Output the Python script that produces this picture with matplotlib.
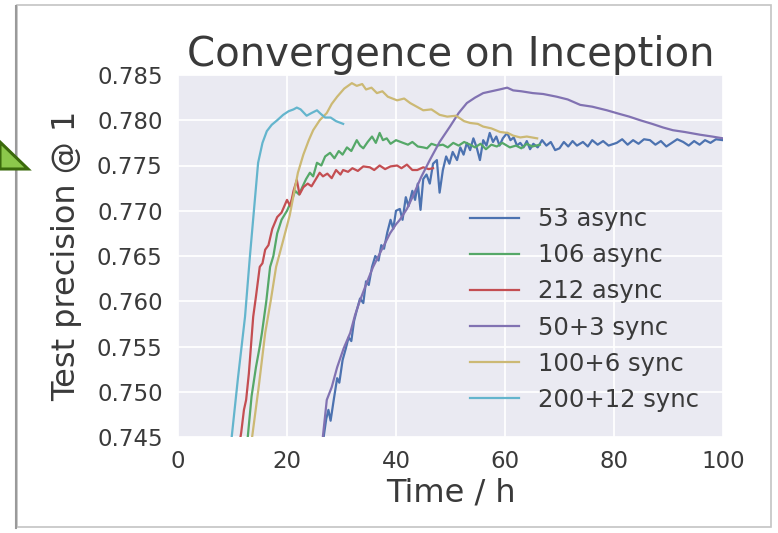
import matplotlib
matplotlib.use("Agg")
import matplotlib.pyplot as plt
from matplotlib.patches import Rectangle, Polygon

# ── Data ──────────────────────────────────────────────
t_53 = [26.6, 27.2, 27.6, 28.0, 28.6, 29.2, 29.6, 30.2, 30.8, 31.3, 31.8, 32.3, 32.8, 33.4,
        34.0, 34.5, 35.0, 35.6, 36.2, 36.8, 37.3, 37.8, 38.4, 39.0, 39.5, 40.0, 40.7, 41.2,
        41.8, 42.3, 43.0, 43.5, 44.0, 44.5, 45.0, 45.6, 46.2, 46.8, 47.5, 48.0, 48.6, 49.2,
        49.8, 50.4, 51.2, 51.8, 52.4, 53.0, 53.6, 54.2, 54.8, 55.4, 56.0, 56.6, 57.2, 57.8,
        58.4, 59.0, 59.6, 60.4, 61.0, 61.6, 62.2, 62.8, 63.4, 64.0, 64.6, 65.2, 66.0, 66.8,
        67.6, 68.4, 69.2, 70.0, 70.8, 71.6, 72.4, 73.2, 74.3, 75.2, 76.0, 77.0, 78.0, 79.0,
        80.5, 81.5, 82.5, 83.5, 84.5, 85.5, 86.6, 87.6, 88.6, 89.6, 90.6, 91.6, 92.7, 93.7,
        94.7, 95.7, 96.7, 97.7, 98.7, 100.0]
v_53 = [0.7445, 0.7470, 0.7480, 0.7468, 0.7492, 0.7515, 0.7510, 0.7535, 0.7548, 0.7560,
        0.7556, 0.7578, 0.7590, 0.7603, 0.7598, 0.7622, 0.7618, 0.7638, 0.7650, 0.7645,
        0.7662, 0.7658, 0.7676, 0.7690, 0.7680, 0.7700, 0.7702, 0.7690, 0.7715, 0.7705,
        0.7722, 0.7712, 0.7730, 0.7701, 0.7735, 0.7740, 0.7730, 0.7752, 0.7756, 0.7720,
        0.7745, 0.7760, 0.7752, 0.7765, 0.7756, 0.7770, 0.7762, 0.7775, 0.7767, 0.7780,
        0.7770, 0.7756, 0.7778, 0.7772, 0.7786, 0.7776, 0.7782, 0.7772, 0.7780, 0.7786,
        0.7778, 0.7781, 0.7772, 0.7775, 0.7770, 0.7777, 0.7768, 0.7774, 0.7770, 0.7778,
        0.7772, 0.7776, 0.7767, 0.7769, 0.7776, 0.7771, 0.7777, 0.7772, 0.7776, 0.7771,
        0.7778, 0.7773, 0.7777, 0.7772, 0.7775, 0.7779, 0.7773, 0.7778, 0.7774, 0.7779,
        0.7778, 0.7773, 0.7777, 0.7771, 0.7775, 0.7779, 0.7776, 0.7772, 0.7777, 0.7773,
        0.7778, 0.7775, 0.7779, 0.7778]

t_106 = [12.5, 12.8, 13.5, 14.3, 15.0, 15.4, 16.2, 16.9, 17.5, 18.2, 19.0, 20.0, 20.9, 21.5,
         22.2, 22.8, 23.5, 24.2, 24.8, 25.5, 26.3, 27.0, 27.9, 28.7, 29.5, 30.2, 31.0, 31.8,
         32.8, 33.4, 34.0, 34.8, 35.6, 36.3, 37.0, 37.6, 38.3, 39.0, 40.0, 41.3, 42.2, 43.0,
         44.0, 45.0, 45.7, 46.5, 47.5, 48.6, 49.5, 50.5, 51.5, 52.5, 53.6, 54.5, 55.5, 56.5,
         57.5, 58.5, 59.5, 60.9, 62.0, 63.0, 64.0, 65.0, 66.4]
v_106 = [0.7440, 0.7450, 0.7495, 0.7527, 0.7550, 0.7565, 0.7600, 0.7638, 0.7650, 0.7675,
         0.7690, 0.7700, 0.7712, 0.7722, 0.7718, 0.7726, 0.7735, 0.7742, 0.7738, 0.7753,
         0.7750, 0.7760, 0.7764, 0.7758, 0.7766, 0.7762, 0.7770, 0.7766, 0.7778, 0.7772,
         0.7769, 0.7776, 0.7782, 0.7775, 0.7786, 0.7778, 0.7780, 0.7774, 0.7778, 0.7775,
         0.7773, 0.7776, 0.7771, 0.7770, 0.7769, 0.7774, 0.7772, 0.7773, 0.7770, 0.7775,
         0.7772, 0.7776, 0.7773, 0.7770, 0.7774, 0.7768, 0.7773, 0.7771, 0.7775, 0.7770,
         0.7772, 0.7769, 0.7774, 0.7771, 0.7773]

t_212 = [11.2, 11.6, 12.1, 12.5, 13.0, 13.8, 14.3, 15.0, 15.5, 16.0, 16.6, 17.3, 18.2, 19.0,
         20.0, 20.6, 21.2, 21.8, 22.3, 23.0, 23.8, 24.5, 25.3, 26.0, 26.6, 27.4, 28.2, 29.0,
         29.8, 30.3, 31.2, 32.0, 33.0, 34.0, 35.2, 36.0, 37.0, 38.0, 39.0, 40.2, 41.0, 42.0,
         43.0, 43.9, 45.0, 46.0, 46.8]
v_212 = [0.7440, 0.7455, 0.7480, 0.7491, 0.7520, 0.7583, 0.7605, 0.7638, 0.7642, 0.7657,
         0.7662, 0.7680, 0.7693, 0.7698, 0.7712, 0.7705, 0.7722, 0.7734, 0.7718, 0.7726,
         0.7730, 0.7727, 0.7735, 0.7742, 0.7738, 0.7741, 0.7736, 0.7745, 0.7740, 0.7745,
         0.7743, 0.7747, 0.7744, 0.7749, 0.7748, 0.7745, 0.7750, 0.7746, 0.7749, 0.7750,
         0.7747, 0.7751, 0.7745, 0.7745, 0.7748, 0.7746, 0.7747]

t_50_3 = [26.4, 27.3, 28.2, 29.2, 30.4, 31.6, 32.5, 33.4, 34.6, 35.8, 37.3, 38.9, 40.0, 40.7,
          42.0, 43.1, 44.6, 46.2, 48.0, 49.9, 51.5, 53.0, 54.5, 56.0, 57.5, 59.0, 60.4, 61.5,
          63.0, 65.1, 67.0, 69.5, 71.5, 73.8, 76.0, 78.7, 81.0, 82.8, 84.8, 87.0, 89.0, 90.8,
          93.0, 95.8, 98.0, 100.0]
v_50_3 = [0.7440, 0.7491, 0.7505, 0.7527, 0.7548, 0.7565, 0.7585, 0.7601, 0.7620, 0.7638,
          0.7656, 0.7675, 0.7685, 0.7690, 0.7702, 0.7716, 0.7737, 0.7756, 0.7776, 0.7793,
          0.7808, 0.7819, 0.7825, 0.7830, 0.7832, 0.7834, 0.7836, 0.7833, 0.7832, 0.7830,
          0.7829, 0.7826, 0.7823, 0.7817, 0.7815, 0.7811, 0.7807, 0.7804, 0.7800, 0.7796,
          0.7792, 0.7789, 0.7787, 0.7784, 0.7782, 0.7780]

t_100_6 = [13.3, 13.6, 14.8, 16.0, 17.0, 18.0, 19.2, 20.5, 21.3, 22.0, 23.0, 24.0, 24.8, 26.0,
           27.3, 28.2, 29.2, 30.5, 31.9, 32.8, 33.8, 34.5, 35.5, 36.5, 37.5, 38.5, 40.2, 41.5,
           42.6, 43.8, 45.0, 46.5, 48.0, 49.4, 51.0, 52.5, 53.6, 55.0, 56.0, 57.5, 59.1, 60.5,
           61.5, 62.8, 64.0, 65.9]
v_100_6 = [0.7440, 0.7450, 0.7505, 0.7565, 0.7600, 0.7638, 0.7665, 0.7695, 0.7720, 0.7742,
           0.7762, 0.7778, 0.7789, 0.7800, 0.7808, 0.7818, 0.7826, 0.7835, 0.7841, 0.7838,
           0.7840, 0.7834, 0.7836, 0.7830, 0.7832, 0.7826, 0.7822, 0.7824, 0.7819, 0.7815,
           0.7811, 0.7812, 0.7806, 0.7804, 0.7805, 0.7799, 0.7797, 0.7796, 0.7793, 0.7791,
           0.7787, 0.7786, 0.7783, 0.7781, 0.7782, 0.7780]

t_200_12 = [9.5, 11.0, 12.3, 13.2, 14.0, 14.7, 15.5, 16.3, 17.2, 18.2, 19.3, 20.3, 21.2, 21.8,
            22.5, 23.6, 24.5, 25.5, 26.2, 27.0, 28.0, 29.0, 30.3]
v_200_12 = [0.7430, 0.7515, 0.7583, 0.7650, 0.7705, 0.7753, 0.7775, 0.7788, 0.7795, 0.7800,
            0.7806, 0.7810, 0.7812, 0.7814, 0.7812, 0.7805, 0.7808, 0.7811, 0.7807, 0.7803,
            0.7803, 0.7799, 0.7796]

series = [
    ("53 async", t_53, v_53, "#4C72B0"),
    ("106 async", t_106, v_106, "#55A868"),
    ("212 async", t_212, v_212, "#C44E52"),
    ("50+3 sync", t_50_3, v_50_3, "#8172B2"),
    ("100+6 sync", t_100_6, v_100_6, "#CCB974"),
    ("200+12 sync", t_200_12, v_200_12, "#64B5CD"),
]

x_ticks = [0, 20, 40, 60, 80, 100]
y_ticks = [0.745, 0.750, 0.755, 0.760, 0.765, 0.770, 0.775, 0.780, 0.785]

TEXT = "#3a3a3a"

fig = plt.figure(figsize=(7.78, 5.33), dpi=100)
fig.patch.set_facecolor("white")

ax = fig.add_axes([178 / 778, 96 / 533, 545 / 778, 362 / 533])
ax.set_facecolor("#EAEAF2")
for sp in ax.spines.values():
    sp.set_visible(False)
ax.grid(True, color="white", linewidth=1.3)
ax.set_axisbelow(True)

for label, t, v, c in series:
    ax.plot(t, v, color=c, linewidth=1.6, label=label)

ax.set_xlim(0, 100)
ax.set_ylim(0.745, 0.785)
ax.set_xticks(x_ticks)
ax.set_yticks(y_ticks)
ax.set_yticklabels([f"{y:.3f}" for y in y_ticks])
ax.tick_params(axis="both", length=0, labelsize=16.5, colors=TEXT)
ax.tick_params(axis="y", pad=11)
ax.tick_params(axis="x", pad=9)

ax.set_title("Convergence on Inception", fontsize=29, color=TEXT, pad=5)
ax.set_xlabel("Time / h", fontsize=23, color=TEXT)
ax.set_ylabel("Test precision @ 1", fontsize=23, color=TEXT)
ax.xaxis.set_label_coords(0.5, -0.113)
ax.yaxis.set_label_coords(-0.176, 0.5)

leg = ax.legend(loc="upper left", bbox_to_anchor=(0.536, 0.635), frameon=False,
                fontsize=17.5, borderaxespad=0, borderpad=0, labelspacing=0.5,
                handlelength=2.0, handletextpad=0.8)
for txt in leg.get_texts():
    txt.set_color(TEXT)

# screenshot frame + little arrow on the left (drawn on top, no fill)
fig.add_artist(Rectangle((17 / 778, 6 / 533), 754 / 778, 522 / 533,
                         transform=fig.transFigure, facecolor="none",
                         edgecolor="#c4c4c4", linewidth=1.2, zorder=10))
fig.add_artist(plt.Line2D([16 / 778, 16 / 778], [5 / 533, 527 / 533],
                          transform=fig.transFigure, color="#9a9a9a", linewidth=1.5, zorder=10))
fig.add_artist(Polygon([(0, 1 - 142 / 533), (28 / 778, 1 - 169 / 533), (0, 1 - 169 / 533)],
                       closed=True, transform=fig.transFigure, facecolor="#8cc84b",
                       edgecolor="#3b6a0c", linewidth=2.2, zorder=11))

fig.savefig("out.png", dpi=100)
